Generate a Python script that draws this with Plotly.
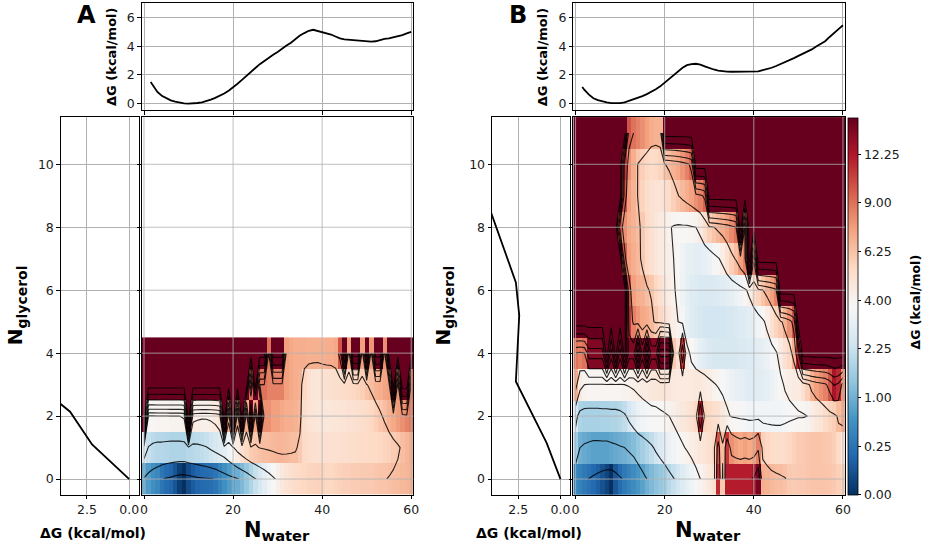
import numpy as np
import plotly.graph_objects as go

# ---------------- data ----------------
U = 27.5  # unsampled bins (saturated colour)

N_WATER = list(range(61))
N_GLY_A = [0, 1, 2, 3, 4]
N_GLY_B = list(range(12))

# Panel A 2D free energy (rows = N_glycerol 0..4)
A_ROW0 = [0.9, 0.7, 0.55, 0.45, 0.28, 0.2, 0.15, 0.07, 0.01, 0.0,
          0.04, 0.1, 0.15, 0.18, 0.2, 0.22, 0.26, 0.4, 0.55, 0.7,
          0.8, 0.95, 1.15, 1.4, 1.8, 2.2, 2.6, 3.0, 3.4, 3.8,
          4.2, 4.6, 4.9, 5.1, 5.3, 5.4, 5.5, 5.6, 5.6, 5.7,
          5.6, 5.5, 5.5, 5.6, 5.7, 5.8, 5.8, 5.9, 5.9, 6.0,
          6.0, 6.0, 6.1, 6.2, 6.2, 6.3, 6.4, 6.5, 6.6, 6.7, 6.8]
A_ROW1 = [3.0, 2.2, 2.0, 1.9, 1.9, 1.85, 1.8, 1.8, 1.8, 1.8,
          1.9, 1.95, 2.0, 2.1, 2.2, 2.4, 2.6, 2.8, 3.0, 3.4,
          3.9, 4.5, 5.0, 5.5, 5.9, 6.1, 6.3, 6.4, 6.5, 6.6,
          6.7, 6.7, 6.6, 6.5, 6.4, 6.0, 5.4, 5.2, 5.1, 5.0,
          5.0, 5.0, 5.0, 5.0, 5.1, 5.1, 5.2, 5.2, 5.3, 5.3,
          5.3, 5.4, 5.4, 5.5, 5.6, 5.7, 5.9, 6.1, 6.4, 6.7, 7.0]
A_ROW2 = [U, 3.8, 3.8, 3.9, 3.9, 3.9, 4.0, 4.0, 4.0, 4.2,
          U, 4.5, 4.3, 4.2, 4.2, 4.3, 4.5, 5.0, U, 7.0,
          U, 7.0, U, 7.0, U, 7.5, U, 8.0, 8.0, 7.5,
          7.5, 7.2, 7.0, 7.0, 6.8, 6.6, 5.2, 4.9, 4.8, 4.7,
          4.7, 4.7, 4.7, 4.8, 4.8, 4.9, 5.0, 5.0, 5.1, 5.2,
          5.3, 5.5, 5.8, 6.1, 6.4, 6.8, 7.2, 7.6, 8.0, 8.4, 8.8]
A_ROW3 = [U, U, U, U, U, U, U, U, U, U,
          U, U, U, U, U, U, U, U, U, U,
          U, U, U, U, 9.0, U, 9.0, 9.0, 8.5, 8.5,
          8.5, 8.5, 7.5, 7.2, 7.0, 6.8, 5.5, 5.0, 4.8, 4.7,
          5.0, 5.0, 5.1, 5.2, 5.2, 5.3, 5.4, 5.5, 5.6, 5.8,
          6.2, 6.5, 6.8, 7.0, 7.3, 7.5, U, 7.8, U, U, 9.0]
A_ROW4 = [U, U, U, U, U, U, U, U, U, U,
          U, U, U, U, U, U, U, U, U, U,
          U, U, U, U, U, U, U, U, 9.0, U,
          U, U, 7.5, 7.2, 7.0, 7.0, 7.0, 6.9, 6.9, 6.9,
          6.9, 7.0, 7.0, 7.2, 10.0, U, 7.5, U, U, 7.5,
          U, 7.8, U, U, 8.0, U, U, U, U, U, U]

# Panel B 2D free energy (rows = N_glycerol 0..11)
B_ROW0 = [0.45, 0.38, 0.3, 0.24, 0.18, 0.12, 0.06, 0.02, 0.0, 0.08,
          0.2, 0.3, 0.4, 0.5, 0.62, 0.8, 1.0, 1.15, 1.3, 1.4,
          1.6, 1.9, 2.2, 2.5, 2.8, 3.1, 3.4, 3.7, 4.0, 4.3,
          4.6, 5.0, 11.5, 6.0, 12.0, 12.0, 12.0, 12.0, 12.0, 12.0,
          12.5, 14.5, 7.0, 6.8, 6.6, 6.5, 6.4, 6.3, 6.0, 5.9,
          6.0, 6.0, 6.1, 6.2, 6.2, 6.2, 6.2, 6.1, 6.0, 5.8, 5.6]
B_ROW1 = [1.6, 1.0, 0.9, 0.85, 0.8, 0.8, 0.8, 0.8, 0.85, 0.9,
          0.95, 1.0, 1.1, 1.2, 1.4, 1.6, 1.85, 2.1, 2.4, 2.7,
          3.0, 3.3, 3.5, 3.7, 3.9, 4.1, 4.3, 4.5, 4.7, 4.9,
          5.1, 5.5, 10.0, 6.5, 11.0, 8.0, 7.5, 7.2, 7.5, 7.2,
          7.5, 8.5, 5.8, 5.5, 5.3, 5.2, 5.2, 5.3, 5.5, 5.7,
          5.9, 6.0, 6.1, 6.2, 6.2, 6.2, 6.1, 6.0, 5.8, 5.4, 4.6]
B_ROW2 = [2.6, 1.8, 1.7, 1.7, 1.7, 1.7, 1.75, 1.75, 1.8, 1.8,
          1.9, 2.1, 2.5, 2.9, 3.3, 3.5, 3.6, 3.7, 3.7, 3.8,
          3.9, 4.0, 4.2, 4.4, 4.6, 4.8, 5.0, 5.5, 12.0, 5.6,
          5.4, 5.2, 5.0, 4.6, 4.2, 3.9, 3.8, 3.7, 3.6, 3.5,
          3.5, 3.5, 3.5, 3.5, 3.5, 3.5, 3.5, 3.6, 3.7, 3.8,
          3.9, 3.9, 4.0, 4.3, 4.6, 4.9, 5.3, 5.6, 5.8, 6.5, 7.0]
B_ROW3 = [7.0, 4.5, 4.0, 3.9, 3.9, 3.9, 3.9, 3.9, 3.9, 3.9,
          3.9, 4.0, 4.1, 4.2, 4.3, 4.4, 4.5, 4.6, 4.7, 4.8,
          4.8, 4.7, 4.6, 4.5, 4.5, 4.5, 4.5, 4.6, 4.6, 4.5,
          4.3, 4.1, 3.9, 3.7, 3.5, 3.3, 3.2, 3.1, 3.0, 2.9,
          2.9, 2.9, 3.0, 3.1, 3.3, 3.5, 3.8, 4.1, 4.3, 4.4,
          4.5, 5.0, 5.8, 6.8, 7.5, 8.0, 8.5, 10.0, 12.5, 11.5, 8.0]
B_ROW4 = [9.0, 8.5, 9.0, 14.0, 14.0, 14.0, 14.0, U, 14.0, U,
          14.0, U, 14.0, 14.0, U, 14.0, U, 14.0, 14.0, U,
          U, U, 6.0, 5.0, 11.0, 4.3, 3.8, 3.4, 3.1, 2.9,
          2.7, 2.6, 2.6, 2.6, 2.6, 2.6, 2.6, 2.7, 2.7, 2.8,
          2.9, 3.0, 3.1, 3.3, 3.6, 3.9, 4.4, 5.0, 5.5, 7.0,
          12.0, U, U, U, U, U, U, U, U, U, U]
B_ROW5 = [U, U, U, U, U, U, U, U, U, U,
          U, U, 11.0, 8.5, 7.8, 7.2, 7.0, 6.6, 6.0, 5.5,
          5.0, 4.6, 4.3, 4.0, 3.6, 3.2, 2.9, 2.7, 2.6, 2.5,
          2.5, 2.5, 2.5, 2.5, 2.6, 2.6, 2.7, 2.8, 2.9, 3.0,
          3.2, 3.5, 3.8, 4.3, 5.0, 5.6, 6.0, 6.8, 8.0, 10.0,
          U, U, U, U, U, U, U, U, U, U, U]
B_ROW6 = [U, U, U, U, U, U, U, U, U, U,
          U, U, 10.0, 7.5, 7.0, 6.8, 6.4, 6.1, 5.5, 5.0,
          4.6, 4.3, 4.1, 3.8, 3.4, 3.1, 2.9, 2.8, 2.7, 2.7,
          2.7, 2.7, 2.8, 2.9, 3.0, 3.1, 3.3, 3.5, 3.8, 4.3,
          5.0, 5.6, 6.2, 6.8, 7.5, 8.5, U, U, U, U,
          U, U, U, U, U, U, U, U, U, U, U]
B_ROW7 = [U, U, U, U, U, U, U, U, U, U,
          U, 9.5, 7.5, 7.0, 6.6, 6.0, 5.4, 5.0, 4.7, 4.5,
          4.3, 4.2, 4.0, 3.7, 3.4, 3.2, 3.1, 3.0, 3.0, 3.1,
          3.3, 3.6, 3.9, 4.3, 5.0, 5.8, 6.4, 7.5, 8.5, U,
          9.5, U, U, U, U, U, U, U, U, U,
          U, U, U, U, U, U, U, U, U, U, U]
B_ROW8 = [U, U, U, U, U, U, U, U, U, U,
          10.0, 8.0, 7.2, 6.8, 6.5, 6.0, 5.4, 5.0, 4.7, 4.5,
          4.3, 4.1, 3.9, 3.8, 3.8, 3.8, 3.9, 4.0, 4.4, 5.2,
          5.8, 6.2, 6.6, 7.0, 7.5, 8.2, 9.0, U, 9.0, U,
          U, U, U, U, U, U, U, U, U, U,
          U, U, U, U, U, U, U, U, U, U, U]
B_ROW9 = [U, U, U, U, U, U, U, U, U, U,
          U, 10.0, 7.5, 6.8, 6.2, 5.6, 5.2, 5.0, 4.9, 4.9,
          5.0, 5.3, 5.8, 6.2, 6.6, 7.0, 7.4, 8.0, 8.5, 9.5,
          U, U, U, U, U, U, U, U, U, U,
          U, U, U, U, U, U, U, U, U, U,
          U, U, U, U, U, U, U, U, U, U, U]
B_ROW10 = [U, U, U, U, U, U, U, U, U, U,
           U, 11.0, 8.0, 7.0, 6.2, 5.8, 5.5, 5.3, 5.4, 5.6,
           6.2, 6.5, 6.8, 7.2, 7.8, 8.5, 9.5, U, U, U,
           U, U, U, U, U, U, U, U, U, U,
           U, U, U, U, U, U, U, U, U, U,
           U, U, U, U, U, U, U, U, U, U, U]
B_ROW11 = [U, U, U, U, U, U, U, U, U, U,
           U, U, 10.0, 9.0, 8.5, 8.0, 7.5, 7.0, 6.8, 6.8,
           U, U, U, U, U, U, U, U, U, U,
           U, U, U, U, U, U, U, U, U, U,
           U, U, U, U, U, U, U, U, U, U,
           U, U, U, U, U, U, U, U, U, U, U]

# 1D profiles along N_water (top panels)
TOP_X = [1.5, 2, 3, 4, 5, 6, 7, 8, 9, 10, 11, 12, 13, 14, 15, 16, 17, 18, 19, 20,
         21, 22, 23, 24, 25, 26, 27, 28, 29, 30, 31, 32, 33, 34, 35, 36, 37, 38, 39, 40,
         41, 42, 43, 44, 45, 46, 47, 48, 49, 50, 51, 52, 53, 54, 55, 56, 57, 58, 59, 60]
TOP_A = [1.5, 1.25, 0.81, 0.55, 0.37, 0.22, 0.13, 0.06, 0.02, 0.0, 0.0, 0.04, 0.09, 0.17, 0.28, 0.4, 0.53, 0.7, 0.9, 1.12,
         1.38, 1.65, 1.95, 2.22, 2.48, 2.75, 2.98, 3.2, 3.4, 3.6, 3.85, 4.05, 4.25, 4.5, 4.75, 4.92, 5.08, 5.15, 5.08, 4.97,
         4.92, 4.82, 4.68, 4.55, 4.48, 4.45, 4.44, 4.4, 4.4, 4.38, 4.33, 4.35, 4.46, 4.52, 4.55, 4.62, 4.72, 4.78, 4.9, 5.0]
TOP_B = [1.16, 0.95, 0.62, 0.37, 0.24, 0.14, 0.08, 0.03, 0.01, 0.03, 0.08, 0.18, 0.27, 0.38, 0.52, 0.66, 0.82, 1.0, 1.2, 1.45,
         1.7, 1.98, 2.25, 2.5, 2.68, 2.76, 2.78, 2.72, 2.6, 2.47, 2.38, 2.3, 2.25, 2.23, 2.22, 2.22, 2.25, 2.27, 2.26, 2.22,
         2.25, 2.33, 2.4, 2.5, 2.62, 2.75, 2.88, 3.02, 3.17, 3.33, 3.48, 3.62, 3.78, 3.98, 4.15, 4.35, 4.65, 4.95, 5.2, 5.47]

# 1D profiles along N_glycerol (left panels)
LEFT_Y_A = [0, 1.1, 2.14, 3.1]
LEFT_A = [0, 2.2, 3.5, 5.7]
LEFT_Y_B = [0, 1.15, 3.1, 5.2, 6.25, 8.3, 9.3]
LEFT_B = [0, 0.82, 2.64, 2.44, 2.64, 4.0, 4.66]

# ticks / levels
X_TICKS = [0, 20, 40, 60]
Y_TICKS = [0, 2, 4, 6, 8, 10]
TOP_Y_TICKS = [0, 2, 4, 6]
LEFT_X_TICKS = [2.5, 0]
LEFT_X_LABELS = ["2.5", "0.0"]
CB_TICKS = [0, 0.25, 1, 2.25, 4, 6.25, 9, 12.25]
CB_LABELS = ["0.00", "0.25", "1.00", "2.25", "4.00", "6.25", "9.00", "12.25"]
CONTOUR_LEVELS = [0.25, 1, 2.25, 4, 6.25, 9, 12.25, 16, 20.25, 25]
ZMAX = 15.0

RDBU_R = ['#053061', '#2166ac', '#4393c3', '#92c5de', '#d1e5f0', '#f7f7f7',
          '#fddbc7', '#f4a582', '#d6604d', '#b2182b', '#67001f']
CSCALE = [[i / (len(RDBU_R) - 1), c] for i, c in enumerate(RDBU_R)]

ZA = np.array([A_ROW0, A_ROW1, A_ROW2, A_ROW3, A_ROW4], dtype=float)
ZB = np.array([B_ROW0, B_ROW1, B_ROW2, B_ROW3, B_ROW4, B_ROW5, B_ROW6, B_ROW7,
               B_ROW8, B_ROW9, B_ROW10, B_ROW11], dtype=float)

# ---------------- layout helpers ----------------
W, H = 930, 546
def fx(px):
    return px / W
def fy(py):
    return 1 - py / H

FONT = "DejaVu Sans"
TXT = "#1a1a1a"
GRID = "#b0b0b0"
TICK_SIZE = 12.5

fig = go.Figure()

def add_panel(z, ygly, top, ly, lx, ax, show_cb):
    sl, sm, st = ax
    fig.add_trace(go.Heatmap(
        x=N_WATER, y=ygly, z=np.sqrt(np.clip(z, 0, None)),
        colorscale=CSCALE, zmin=0, zmax=np.sqrt(ZMAX),
        showscale=show_cb, hoverinfo="skip",
        xaxis="x" + sm, yaxis="y" + sm,
        colorbar=dict(
            x=fx(853.3), xanchor="left", y=fy(307), yanchor="middle",
            len=(496 - 118) / H, lenmode="fraction",
            thickness=9.5, thicknessmode="pixels",
            outlinewidth=0.8, outlinecolor="black",
            xpad=0, ypad=0,
            tickvals=[float(np.sqrt(t)) for t in CB_TICKS], ticktext=CB_LABELS,
            ticks="outside", ticklen=3.5, tickwidth=0.8, tickcolor="black",
            tickfont=dict(family=FONT, size=TICK_SIZE, color=TXT),
        ),
    ))
    for lev in CONTOUR_LEVELS:
        fig.add_trace(go.Contour(
            x=N_WATER, y=ygly, z=z, autocontour=False,
            contours=dict(start=lev, end=lev + 1e-3, size=1, coloring="none"),
            line=dict(color="rgba(0,0,0,0.85)", width=1.1, smoothing=0),
            showscale=False, hoverinfo="skip", showlegend=False,
            xaxis="x" + sm, yaxis="y" + sm,
        ))
    fig.add_trace(go.Scatter(x=TOP_X, y=top, mode="lines",
                             line=dict(color="black", width=1.8),
                             xaxis="x" + st, yaxis="y" + st, hoverinfo="skip"))
    fig.add_trace(go.Scatter(x=lx, y=ly, mode="lines",
                             line=dict(color="black", width=1.8),
                             xaxis="x" + sl, yaxis="y" + sl, hoverinfo="skip"))

add_panel(ZA, N_GLY_A, TOP_A, LEFT_Y_A, LEFT_A, ("", "2", "3"), False)
add_panel(ZB, N_GLY_B, TOP_B, LEFT_Y_B, LEFT_B, ("4", "5", "6"), True)

base = dict(showline=True, mirror=True, linecolor="black", linewidth=1,
            ticks="outside", ticklen=3.5, tickwidth=0.8, tickcolor="black",
            gridcolor=GRID, gridwidth=0.8, zeroline=False,
            tickfont=dict(family=FONT, size=TICK_SIZE, color=TXT))

main_y = [fy(495.7), fy(117.3)]
top_y = [fy(110.5), fy(3.3)]
panels = [
    ((59.3, 137.7), (141.0, 415.0), ("", "2", "3")),
    ((494.3, 572.7), (576.3, 850.5), ("4", "5", "6")),
]
lay = {}
for (lxp, mxp, (sl, sm, st)) in panels:
    kl = sl
    lay["xaxis" + kl] = dict(base, domain=[fx(lxp[0]), fx(lxp[1])], anchor="y" + kl,
                             range=[4.05, -0.55], tickvals=LEFT_X_TICKS,
                             ticktext=LEFT_X_LABELS, showgrid=True)
    lay["yaxis" + kl] = dict(base, domain=main_y, anchor="x" + kl,
                             range=[-0.5, 11.5], tickvals=Y_TICKS, showgrid=True)
    lay["xaxis" + sm] = dict(base, domain=[fx(mxp[0]), fx(mxp[1])], anchor="y" + sm,
                             range=[-0.5, 60.5], tickvals=X_TICKS, showgrid=False)
    lay["yaxis" + sm] = dict(base, domain=main_y, anchor="x" + sm,
                             range=[-0.5, 11.5], tickvals=Y_TICKS,
                             showticklabels=False, showgrid=False)
    lay["xaxis" + st] = dict(base, domain=[fx(mxp[0]), fx(mxp[1])], anchor="y" + st,
                             range=[-0.5, 60.5], tickvals=X_TICKS,
                             showticklabels=False, showgrid=True)
    lay["yaxis" + st] = dict(base, domain=top_y, anchor="x" + st,
                             range=[-0.47, 7.0], tickvals=TOP_Y_TICKS, showgrid=True)

shapes = []
for sm in ("2", "5"):
    for v in X_TICKS:
        shapes.append(dict(type="line", xref="x" + sm, yref="y" + sm + " domain",
                           x0=v, x1=v, y0=0, y1=1, layer="above",
                           line=dict(color=GRID, width=0.8)))
    for v in Y_TICKS:
        shapes.append(dict(type="line", xref="x" + sm + " domain", yref="y" + sm,
                           x0=0, x1=1, y0=v, y1=v, layer="above",
                           line=dict(color=GRID, width=0.8)))

def ann(text, x, y, size, angle=0):
    return dict(text=text, x=fx(x), y=fy(y), xref="paper", yref="paper",
                xanchor="center", yanchor="middle", showarrow=False,
                textangle=angle, font=dict(family=FONT, size=size, color="black"))

annotations = [
    ann("<b>A</b>", 85, 15, 24),
    ann("<b>B</b>", 520.5, 15, 24),
    ann("<b>ΔG (kcal/mol)</b>", 111, 57, 13, -90),
    ann("<b>ΔG (kcal/mol)</b>", 546, 57, 13, -90),
    ann("<b>N<sub>glycerol</sub></b>", 15, 306, 20, -90),
    ann("<b>N<sub>glycerol</sub></b>", 446, 306, 20, -90),
    ann("<b>ΔG (kcal/mol)</b>", 92, 534, 14),
    ann("<b>ΔG (kcal/mol)</b>", 532, 534, 14),
    ann("<b>N<sub>water</sub></b>", 277.5, 532, 21),
    ann("<b>N<sub>water</sub></b>", 712.5, 532, 21),
    ann("<b>ΔG (kcal/mol)</b>", 921, 303, 12.5, -90),
]

fig.update_layout(
    width=W, height=H, margin=dict(l=0, r=0, t=0, b=0, pad=0),
    paper_bgcolor="white", plot_bgcolor="white", showlegend=False,
    shapes=shapes, annotations=annotations,
    font=dict(family=FONT, color=TXT),
    **lay,
)

fig.write_html("out.html", config={"displayModeBar": False},
               post_script="document.body.style.margin='0px';document.body.style.overflow='hidden';")
